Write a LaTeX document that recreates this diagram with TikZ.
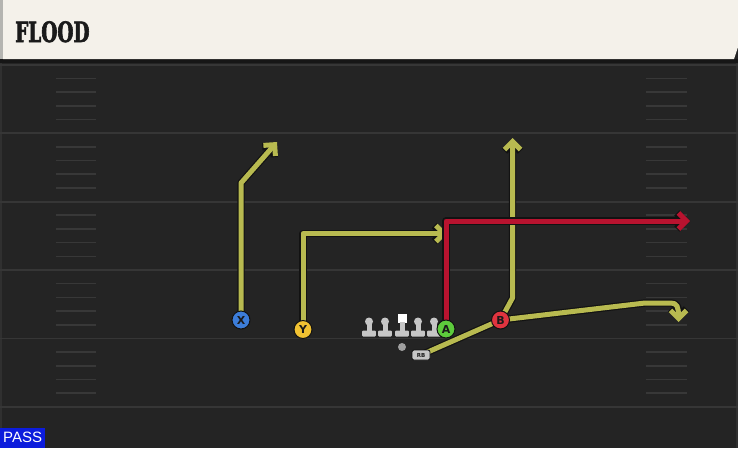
\documentclass[tikz,border=0pt]{standalone}
\usepackage{fontspec}
\setmainfont{DejaVu Sans}
\newfontfamily\titlefont[FakeStretch=0.66,BoldFeatures={FakeBold=2.2}]{DejaVu Serif}
\newfontfamily\passfont{Liberation Sans}
\usetikzlibrary{arrows.meta}
\definecolor{cream}{HTML}{F4F1EA}
\definecolor{headgrey}{HTML}{B4B4B0}
\definecolor{fieldbg}{HTML}{242424}
\definecolor{stripc}{HTML}{161616}
\definecolor{yardc}{HTML}{363636}
\definecolor{hashc}{HTML}{383838}
\definecolor{edgec}{HTML}{303030}
\definecolor{yel}{HTML}{B8BA50}
\definecolor{redr}{HTML}{B8132F}
\definecolor{outl}{HTML}{121212}
\definecolor{pblue}{HTML}{3C7DD9}
\definecolor{pyellow}{HTML}{F1C232}
\definecolor{pgreen}{HTML}{5DCB3C}
\definecolor{pred}{HTML}{E0343F}
\definecolor{passblue}{HTML}{0C1CDC}
\definecolor{linec}{HTML}{C6C6C6}
\definecolor{txtdark}{HTML}{1A1A1A}
\pgfdeclarelayer{fieldlayer}
\pgfdeclarelayer{routelayer}
\pgfsetlayers{fieldlayer,routelayer,main}
\tikzset{
  player/.style={circle, draw=outl, line width=1pt, minimum size=18pt, inner sep=0pt,
    font=\bfseries\fontsize{11}{11}\selectfont, text=txtdark},
  routeout/.style={line width=7.4pt, draw=outl, line join=round,
    -{Straight Barb[length=8pt,width=16pt]}},
  yroute/.style={line width=5pt, draw=yel, line join=round,
    -{Straight Barb[length=8pt,width=16pt]}},
  rroute/.style={line width=5pt, draw=redr, line join=round,
    -{Straight Barb[length=8pt,width=16pt]}},
  plainout/.style={line width=7.4pt, draw=outl, line join=round},
  plainy/.style={line width=5pt, draw=yel, line join=round},
  yardline/.style={draw=yardc, line width=1.8pt},
  hashmark/.style={draw=hashc, line width=1.6pt},
}
\begin{document}
\begin{tikzpicture}[x=1pt,y=-1pt]
\useasboundingbox (0,0) rectangle (738,448);
\begin{pgfonlayer}{fieldlayer}
  \fill[fieldbg] (0,0) rectangle (738,448);
  \fill[edgec] (0,63) rectangle (2,448);
  \fill[edgec] (736,63) rectangle (738,448);
  \foreach \y in {64.8,133.2,201.6,270,338.4,406.8} {
    \draw[yardline] (0,\y) -- (738,\y);
  }
  \foreach \y in {64.8,133.2,201.6,270,338.4} {
    \foreach \k in {1,2,3,4} {
      \draw[hashmark] (56,\y+13.68*\k) -- (96,\y+13.68*\k);
      \draw[hashmark] (646,\y+13.68*\k) -- (687,\y+13.68*\k);
    }
  }
  \fill[stripc] (0,59) rectangle (738,63);
  \fill[headgrey] (0,0) rectangle (4,59);
  \fill[cream] (3,0) -- (738,0) -- (738,47) -- (734,59) -- (3,59) -- cycle;
  % linemen
  \foreach \x in {369,385,418,434} {
    \fill[linec] (\x,321.5) circle (4);
    \fill[linec] (\x-2.5,321) rectangle (\x+2.5,331);
    \fill[linec, rounded corners=1pt] (\x-6.8,330.5) rectangle (\x+6.8,336.5);
  }
  \fill[white] (397.5,313.5) rectangle (406.5,323);
  \fill[linec] (399.5,322) rectangle (404.5,331);
  \fill[linec, rounded corners=1pt] (395.2,330.5) rectangle (408.8,336.5);
  \fill[gray!75] (402,347) circle (4);
\end{pgfonlayer}

\node[anchor=base west, inner sep=0pt, text=txtdark,
  font=\titlefont\bfseries\fontsize{28}{28}\selectfont] (title) at (15,42) {FLOOD};
\node[anchor=south west, fill=passblue, minimum width=45pt, minimum height=20pt,
  inner sep=0pt, text=white, font=\passfont\fontsize{15}{15}\selectfont] (pass) at (0,448) {PASS};

\node[player, fill=pblue] (X) at (241,320) {X};
\node[player, fill=pyellow] (Y) at (303,329.5) {Y};
\node[player, fill=pgreen] (A) at (446,329) {A};
\node[player, fill=pred] (B) at (500.5,320) {B};
\node[draw=outl, line width=0.8pt, fill=linec, rounded corners=2pt, minimum width=18pt,
  minimum height=10pt, inner sep=0pt, text=txtdark,
  font=\bfseries\fontsize{5.5}{5.5}\selectfont] (rb) at (421,355) {RB};

\coordinate (xbreak) at (241,183);
\coordinate (xend) at (277,142);
\coordinate (ybreak) at (303,233.5);
\coordinate (yend) at (447.5,233.5);
\coordinate (abreak) at (446,221);
\coordinate (aend) at (690,221);
\coordinate (bbreak) at (512.5,298);
\coordinate (bend) at (512.5,138);
\coordinate (f1) at (645,303);
\coordinate (f2) at (671,303);
\coordinate (fend) at (678.5,322);

\begin{pgfonlayer}{routelayer}
  % X route
  \draw[routeout] (X.center) -- (xbreak) -- (xend);
  \draw[yroute] (X.center) -- (xbreak) -- (xend);
  % Y route
  \draw[routeout] (Y.center) -- (ybreak) -- (yend);
  \draw[yroute] (Y.center) -- (ybreak) -- (yend);
  % B route
  \draw[routeout] (B.center) -- (bbreak) -- (bend);
  \draw[yroute] (B.center) -- (bbreak) -- (bend);
  % RB route
  \draw[plainout] (rb.center) -- (B.center);
  \draw[routeout] (B.center) -- (f1) -- (f2) .. controls (677,303) and (678.5,307) .. (fend);
  \draw[plainy] (rb.center) -- (B.center);
  \draw[yroute] (B.center) -- (f1) -- (f2) .. controls (677,303) and (678.5,307) .. (fend);
  % A route
  \draw[routeout] (A.center) -- (abreak) -- (aend);
  \draw[rroute] (A.center) -- (abreak) -- (aend);
\end{pgfonlayer}
\end{tikzpicture}
\end{document}
